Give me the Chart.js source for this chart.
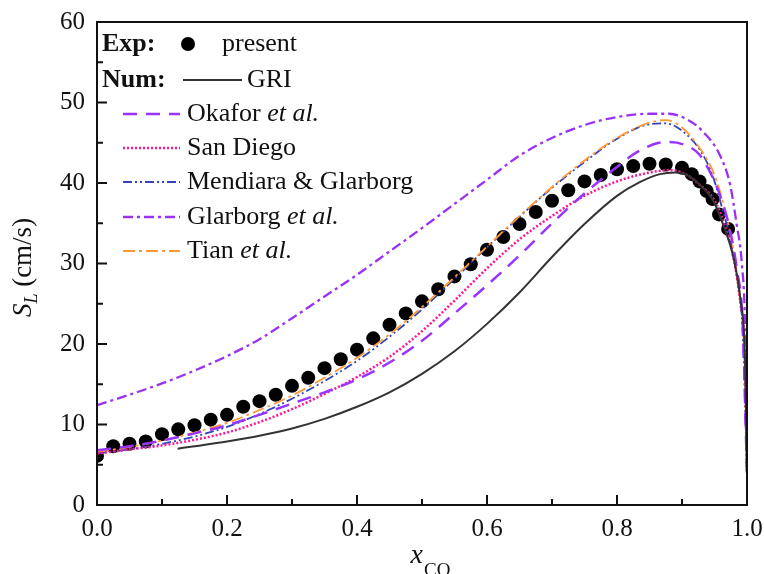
<!DOCTYPE html>
<html><head><meta charset="utf-8">
<script src="https://cdn.jsdelivr.net/npm/chart.js@4.4.0/dist/chart.umd.min.js"></script>
<style>html,body{margin:0;padding:0;background:#fff;}canvas{display:block;}</style>
</head><body>
<canvas id="c" width="764" height="574"></canvas>
<script>
const SERIF = "'Liberation Serif','Times New Roman',serif";

// Experimental data (present)
const expX = [0.0, 0.025, 0.05, 0.075, 0.1, 0.125, 0.15, 0.175, 0.2, 0.225, 0.25, 0.275, 0.3, 0.325, 0.35, 0.375, 0.4, 0.425, 0.45, 0.475, 0.5, 0.525, 0.55, 0.575, 0.6, 0.625, 0.65, 0.675, 0.7, 0.725, 0.75, 0.775, 0.8, 0.825, 0.85, 0.875, 0.9, 0.915, 0.927, 0.938, 0.947, 0.957, 0.971];
const expY = [6.1, 7.3, 7.6, 7.9, 8.8, 9.4, 9.9, 10.6, 11.2, 12.2, 12.9, 13.7, 14.8, 15.8, 17.0, 18.1, 19.3, 20.7, 22.4, 23.8, 25.3, 26.8, 28.4, 29.9, 31.7, 33.3, 34.9, 36.4, 37.8, 39.1, 40.2, 41.0, 41.7, 42.1, 42.4, 42.3, 41.9, 41.1, 40.2, 39.0, 38.0, 36.1, 34.3];

// GRI
const griX = [0.124, 0.15, 0.2, 0.25, 0.3, 0.35, 0.4, 0.45, 0.5, 0.55, 0.6, 0.65, 0.7, 0.75, 0.8, 0.835, 0.866, 0.89, 0.91, 0.927, 0.948, 0.963, 0.979, 0.99, 0.997, 1.0];
const griY = [7.0, 7.3, 7.9, 8.6, 9.5, 10.7, 12.2, 14.0, 16.3, 19.1, 22.5, 26.4, 30.8, 34.9, 38.4, 40.1, 41.1, 41.3, 40.9, 39.8, 37.8, 34.9, 30.8, 25.5, 18.0, 4.0];

// Okafor et al.
const okaX = [0, 0.05, 0.1, 0.15, 0.2, 0.25, 0.3, 0.35, 0.4, 0.45, 0.5, 0.55, 0.6, 0.65, 0.7, 0.75, 0.8, 0.83, 0.86, 0.88, 0.902, 0.927, 0.95, 0.963, 0.974, 0.985, 0.993, 1.0];
const okaY = [6.8, 7.3, 8.0, 8.9, 9.9, 11.2, 12.6, 14.0, 15.6, 17.7, 20.4, 23.8, 27.3, 31.0, 35.0, 38.7, 42.0, 43.8, 44.9, 45.1, 44.8, 43.5, 40.2, 37.4, 34.1, 29.0, 23.0, 4.0];

// San Diego
const sdX = [0, 0.05, 0.1, 0.15, 0.2, 0.25, 0.3, 0.35, 0.4, 0.45, 0.5, 0.55, 0.6, 0.65, 0.7, 0.75, 0.8, 0.85, 0.88, 0.9, 0.927, 0.953, 0.968, 0.979, 0.99, 0.997, 1.0];
const sdY = [6.4, 6.9, 7.4, 8.1, 9.0, 10.3, 11.9, 13.8, 15.9, 18.4, 21.6, 25.4, 29.4, 33.0, 35.9, 38.4, 40.2, 41.3, 41.6, 41.3, 39.8, 37.4, 34.1, 30.8, 25.0, 18.0, 4.0];

// Mendiara & Glarborg
const mgX = [0, 0.05, 0.1, 0.15, 0.2, 0.25, 0.3, 0.35, 0.4, 0.45, 0.5, 0.55, 0.6, 0.65, 0.7, 0.75, 0.8, 0.85, 0.875, 0.9, 0.93, 0.948, 0.963, 0.974, 0.985, 0.993, 1.0];
const mgY = [6.4, 6.9, 7.6, 8.5, 9.7, 11.3, 13.2, 15.4, 17.9, 20.9, 24.3, 28.1, 32.0, 35.8, 39.4, 42.6, 45.5, 47.3, 47.4, 46.5, 43.8, 40.7, 36.5, 33.2, 28.0, 22.0, 4.0];

// Glarborg et al.
const glX = [0, 0.05, 0.1, 0.15, 0.2, 0.25, 0.3, 0.35, 0.4, 0.45, 0.5, 0.55, 0.6, 0.65, 0.7, 0.75, 0.8, 0.85, 0.88, 0.91, 0.932, 0.958, 0.974, 0.984, 0.992, 0.997, 1.0];
const glY = [12.4, 13.7, 15.1, 16.7, 18.5, 20.6, 23.2, 25.9, 28.6, 31.5, 34.4, 37.4, 40.4, 43.4, 45.6, 47.2, 48.2, 48.6, 48.6, 47.8, 46.4, 43.5, 39.8, 34.9, 30.0, 22.0, 4.0];

// Tian et al.
const tiX = [0, 0.05, 0.1, 0.15, 0.2, 0.25, 0.3, 0.35, 0.4, 0.45, 0.5, 0.55, 0.6, 0.65, 0.7, 0.75, 0.8, 0.85, 0.875, 0.9, 0.93, 0.95, 0.965, 0.976, 0.987, 0.995, 1.0];
const tiY = [6.6, 7.2, 8.0, 9.0, 10.2, 11.8, 13.6, 15.8, 18.3, 21.2, 24.6, 28.3, 32.1, 35.9, 39.5, 42.8, 45.6, 47.5, 47.8, 46.9, 44.0, 41.0, 37.0, 33.0, 27.0, 20.0, 4.0];

// Axis ticks
const xTickValues = [0, 0.2, 0.4, 0.6, 0.8, 1.0];
const xTickLabels = ['0.0', '0.2', '0.4', '0.6', '0.8', '1.0'];
const yTickValues = [0, 10, 20, 30, 40, 50, 60];
const yTickLabels = ['0', '10', '20', '30', '40', '50', '60'];
const xMinorTicks = [0.1, 0.3, 0.5, 0.7, 0.9];
const yMinorTicks = [5, 15, 25, 35, 45, 55];

function pts(xs, ys) { return xs.map((x, i) => ({ x: x, y: ys[i] })); }

function lineDs(key, xs, ys, color, dash, width) {
  return {
    key: key, data: pts(xs, ys), showLine: true, pointRadius: 0, pointHoverRadius: 0,
    borderColor: color, backgroundColor: color, borderDash: dash, borderWidth: width,
    cubicInterpolationMode: 'monotone', fill: false, order: 1
  };
}

const datasets = [
  lineDs('gri', griX, griY, '#333333', [], 2),
  lineDs('okafor', okaX, okaY, '#9933FF', [14, 9], 2.5),
  lineDs('sandiego', sdX, sdY, '#FF1493', [2, 2], 2.5),
  lineDs('glarborg', glX, glY, '#9A32F5', [10, 4, 3, 4], 2.3),
  lineDs('tian', tiX, tiY, '#FF9933', [12, 4, 3, 4], 1.8),
  lineDs('mendiara', mgX, mgY, '#3344BB', [9, 3, 2, 3, 2, 3], 1.8),
  { key: 'exp', data: pts(expX, expY), showLine: false, pointRadius: 7, pointHoverRadius: 7,
    pointBackgroundColor: '#000', pointBorderColor: '#000', borderWidth: 0, order: 5 }
];

function dsByKey(chart, k) { return chart.data.datasets.find(d => d.key === k); }

function drawParts(ctx, parts, x, y, size) {
  let cx = x;
  parts.forEach(p => {
    ctx.font = (p[1] ? 'italic ' : '') + size + 'px ' + SERIF;
    ctx.fillText(p[0], cx, y);
    cx += ctx.measureText(p[0]).width;
  });
}

const framePlugin = {
  id: 'frame',
  afterDatasetsDraw(chart) {
    const ctx = chart.ctx, a = chart.chartArea, xs = chart.scales.x, ys = chart.scales.y;
    ctx.save();
    ctx.strokeStyle = '#111'; ctx.lineWidth = 2; ctx.setLineDash([]);
    ctx.strokeRect(a.left, a.top, a.right - a.left, a.bottom - a.top);
    ctx.beginPath();
    xTickValues.forEach(v => { const p = xs.getPixelForValue(v); ctx.moveTo(p, a.bottom); ctx.lineTo(p, a.bottom - 10); });
    xMinorTicks.forEach(v => { const p = xs.getPixelForValue(v); ctx.moveTo(p, a.bottom); ctx.lineTo(p, a.bottom - 6); });
    yTickValues.forEach(v => { const p = ys.getPixelForValue(v); ctx.moveTo(a.left, p); ctx.lineTo(a.left + 10, p); });
    yMinorTicks.forEach(v => { const p = ys.getPixelForValue(v); ctx.moveTo(a.left, p); ctx.lineTo(a.left + 6, p); });
    ctx.stroke();
    ctx.restore();
  }
};

const textPlugin = {
  id: 'texts',
  afterDraw(chart) {
    const ctx = chart.ctx, a = chart.chartArea;
    ctx.save();
    ctx.fillStyle = '#111';
    ctx.textBaseline = 'middle';
    ctx.textAlign = 'left';
    // Legend
    ctx.font = 'bold 26px ' + SERIF;
    ctx.fillText('Exp:', 102, 44);
    ctx.fillText('Num:', 102, 80);
    ctx.beginPath(); ctx.arc(188, 44, 7, 0, Math.PI * 2); ctx.fillStyle = '#000'; ctx.fill();
    ctx.fillStyle = '#111';
    ctx.font = '26px ' + SERIF;
    ctx.fillText('present', 222, 44);

    const rows = [
      { k: 'gri', x0: 183, x1: 242, tx: 247, y: 80, parts: [['GRI', false]] },
      { k: 'okafor', x0: 123, x1: 180, tx: 187, y: 114, parts: [['Okafor ', false], ['et al.', true]] },
      { k: 'sandiego', x0: 123, x1: 180, tx: 187, y: 148, parts: [['San Diego', false]] },
      { k: 'mendiara', x0: 123, x1: 180, tx: 187, y: 182, parts: [['Mendiara & Glarborg', false]] },
      { k: 'glarborg', x0: 123, x1: 180, tx: 187, y: 217, parts: [['Glarborg ', false], ['et al.', true]] },
      { k: 'tian', x0: 123, x1: 180, tx: 187, y: 251, parts: [['Tian ', false], ['et al.', true]] }
    ];
    rows.forEach(r => {
      const d = dsByKey(chart, r.k);
      ctx.save();
      ctx.strokeStyle = d.borderColor; ctx.lineWidth = d.borderWidth; ctx.setLineDash(d.borderDash);
      ctx.beginPath(); ctx.moveTo(r.x0, r.y); ctx.lineTo(r.x1, r.y); ctx.stroke();
      ctx.restore();
      ctx.fillStyle = '#111';
      drawParts(ctx, r.parts, r.tx, r.y, 26);
    });

    // Y axis title: S_L (cm/s)
    ctx.save();
    ctx.translate(31, (a.top + a.bottom) / 2 + 4);
    ctx.rotate(-Math.PI / 2);
    ctx.textBaseline = 'alphabetic';
    ctx.font = 'italic 27px ' + SERIF;
    const wS = ctx.measureText('S').width;
    ctx.font = 'italic 18px ' + SERIF;
    const wL = ctx.measureText('L').width;
    ctx.font = '27px ' + SERIF;
    const wR = ctx.measureText(' (cm/s)').width;
    let sx = -(wS + wL + wR) / 2;
    ctx.font = 'italic 27px ' + SERIF; ctx.fillText('S', sx, 0); sx += wS;
    ctx.font = 'italic 18px ' + SERIF; ctx.fillText('L', sx, 6); sx += wL;
    ctx.font = '27px ' + SERIF; ctx.fillText(' (cm/s)', sx, 0);
    ctx.restore();

    // X axis title: x_CO
    ctx.save();
    ctx.textBaseline = 'alphabetic';
    ctx.font = 'italic 28px ' + SERIF;
    const wx = ctx.measureText('x').width;
    ctx.font = '19px ' + SERIF;
    const wco = ctx.measureText('CO').width;
    let xx = (a.left + a.right) / 2 - (wx + wco) / 2 + 8;
    ctx.font = 'italic 28px ' + SERIF; ctx.fillText('x', xx, 563); xx += wx + 1;
    ctx.font = '19px ' + SERIF; ctx.fillText('CO', xx, 576);
    ctx.restore();

    ctx.restore();
  }
};

new Chart(document.getElementById('c'), {
  type: 'scatter',
  data: { datasets: datasets },
  options: {
    responsive: false,
    animation: false,
    events: [],
    layout: { padding: { top: 22, right: 17, left: 0, bottom: 0 } },
    plugins: { legend: { display: false }, tooltip: { enabled: false }, title: { display: false } },
    scales: {
      x: {
        type: 'linear', min: 0, max: 1,
        afterFit(s) { s.height = 69; s.paddingLeft = 0; s.paddingRight = 0; },
        afterBuildTicks(s) { s.ticks = xTickValues.map(v => ({ value: v })); },
        ticks: { padding: 9, color: '#111', font: { family: SERIF, size: 25 }, maxRotation: 0, autoSkip: false,
          callback: (v, i) => xTickLabels[i] },
        grid: { display: false, drawTicks: false },
        border: { display: false }
      },
      y: {
        type: 'linear', min: 0, max: 60,
        afterFit(s) { s.width = 97; s.paddingTop = 0; s.paddingBottom = 0; },
        afterBuildTicks(s) { s.ticks = yTickValues.map(v => ({ value: v })); },
        ticks: { padding: 12, color: '#111', font: { family: SERIF, size: 25 }, autoSkip: false,
          callback: (v, i) => yTickLabels[i] },
        grid: { display: false, drawTicks: false },
        border: { display: false }
      }
    }
  },
  plugins: [framePlugin, textPlugin]
});
</script>
</body></html>
